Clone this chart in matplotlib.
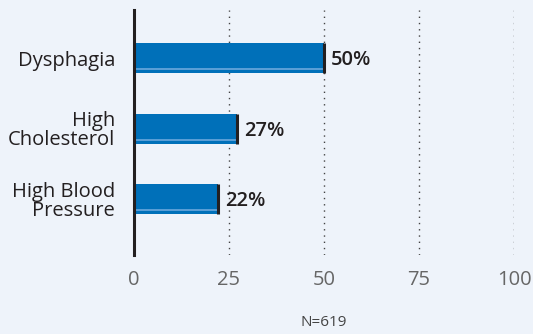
import matplotlib.pyplot as plt

conditions = ["Dysphagia", "High\nCholesterol", "High Blood\nPressure"]
percents = [50, 27, 22]
xticks = [0, 25, 50, 75, 100]
sample_note = "N=619"

bg = "#eef3fa"
bar_color = "#0070b9"
stripe_color = "#6aa8dc"
ink = "#231f20"

plt.rcParams['font.family'] = ['Open Sans', 'DejaVu Sans']

fig = plt.figure(figsize=(5.33, 3.34), dpi=100, facecolor=bg)
ax = fig.add_axes([134 / 533, 1 - 255 / 334, 380 / 533, 245 / 334])
ax.set_facecolor(bg)

ypos = list(range(len(conditions)))
h = 0.425
ax.barh(ypos, percents, height=h, color=bar_color, zorder=3)
# light stripe near the bottom edge and a dark cap at the end of each bar
ax.hlines([y + 0.155 for y in ypos], 0, percents, color=stripe_color, lw=1.2, zorder=4)
ax.vlines(percents, [y - h / 2 for y in ypos], [y + h / 2 for y in ypos], color=ink, lw=2.2, zorder=5)

for y, v in zip(ypos, percents):
    ax.text(v + 1.9, y + 0.03, f"{v}%", va="center", ha="left", fontsize=14.5,
            fontweight="semibold", color=ink)

for t in xticks[1:]:
    ax.axvline(t, color="#444444", lw=1, ls=(0, (1, 3.5)), zorder=1)

ax.set_xlim(0, 100)
ax.set_ylim(2.79, -0.68)
ax.set_xticks(xticks)
ax.set_xticklabels([str(t) for t in xticks], fontsize=14.5, color="#666666")
ax.set_yticks(ypos)
ax.set_yticklabels(conditions, fontsize=14.5, color=ink, linespacing=0.95)
ax.tick_params(length=0, axis="x", pad=11)
ax.tick_params(length=0, axis="y", pad=13.5)
for lab in ax.get_yticklabels():
    lab.set_multialignment("right")

for s in ["top", "right", "bottom"]:
    ax.spines[s].set_visible(False)
ax.spines["left"].set_color(ink)
ax.spines["left"].set_linewidth(2.2)
ax.spines["left"].set_zorder(6)

fig.text(324 / 533, 1 - 323 / 334, sample_note, ha="center", va="center",
         fontsize=11, color="#444444")

fig.savefig("out.png", dpi=100, facecolor=bg)
